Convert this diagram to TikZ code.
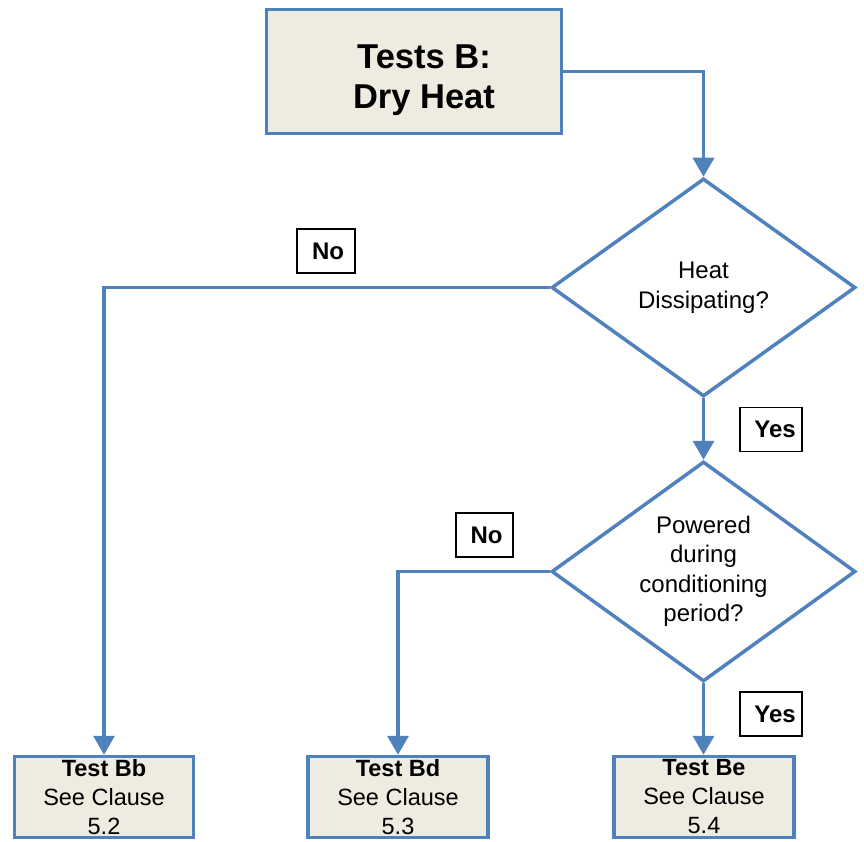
\documentclass[tikz,border=0pt]{standalone}
\usepackage{fontspec}
\setmainfont{Liberation Sans}
\usetikzlibrary{shapes.geometric,arrows.meta}
\definecolor{flowblue}{HTML}{4F81BD}
\definecolor{boxfill}{HTML}{EEEBE0}
\tikzset{
  mainbox/.style={draw=flowblue, line width=3.5pt, fill=boxfill, minimum width=295pt, minimum height=124pt, inner sep=0pt},
  toptext/.style={font=\fontsize{34.5}{40}\selectfont\bfseries, align=center, inner sep=0pt},
  decision/.style={draw=flowblue, line width=3.5pt, diamond, inner sep=-40pt, minimum width=#1, align=center, font=\fontsize{24}{29.5}\selectfont},
  testbox/.style={draw=flowblue, line width=3.5pt, fill=boxfill, minimum width=179pt, minimum height=81pt, inner sep=0pt, align=center, font=\fontsize{23.5}{29}\selectfont},
  tag/.style={draw=black, line width=1.3pt, fill=white, minimum width=#1, minimum height=44pt, inner sep=0pt, font=\fontsize{24}{26}\selectfont\bfseries},
  arr/.style={draw=flowblue, line width=3.5pt, -{Triangle[length=19pt,width=21pt]}},
}
\begin{document}
\begin{tikzpicture}[x=1pt,y=-1pt]
\useasboundingbox (0,0) rectangle (864,842);
% top box
\node[mainbox] (top) at (414,71.5) {};
\node[toptext] (toptxt) at ([xshift=10pt,yshift=-9pt]top.center) {Tests B:\\Dry Heat};
% decisions
\node[decision=304pt, minimum height=218pt] (d1) at (703.5,287.5) {Heat\\Dissipating?};
\node[decision=304pt, minimum height=220pt] (d2) at (703.5,571.5) {Powered\\during\\conditioning\\period?};
% test boxes
\node[testbox] (bb) at (104,797) {\textbf{Test Bb}\\See Clause\\5.2};
\node[testbox, minimum width=180pt] (bd) at (398,797) {\textbf{Test Bd}\\See Clause\\5.3};
\node[testbox, minimum width=180pt] (be) at (704,797) {\textbf{Test Be}\\See Clause\\5.4};
% connectors
\draw[arr] (top.east) -| (d1.north);
\draw[arr] (d1.west) -| (bb.north);
\draw[arr] (d1.south) -- (d2.north);
\draw[arr] (d2.west) -| (bd.north);
\draw[arr] (d2.south) -- (d2.south |- be.north);
% tags
\node[tag=58pt] (no1) at (326,251) {\hspace*{4pt}No};
\node[tag=57pt] (no2) at (484.5,535) {\hspace*{4pt}No};
\node[tag=62pt] (yes1) at (771,429.5) {\hspace*{8pt}Yes};
\node[tag=62pt] (yes2) at (771,714) {\hspace*{8pt}Yes};
\end{tikzpicture}
\end{document}
